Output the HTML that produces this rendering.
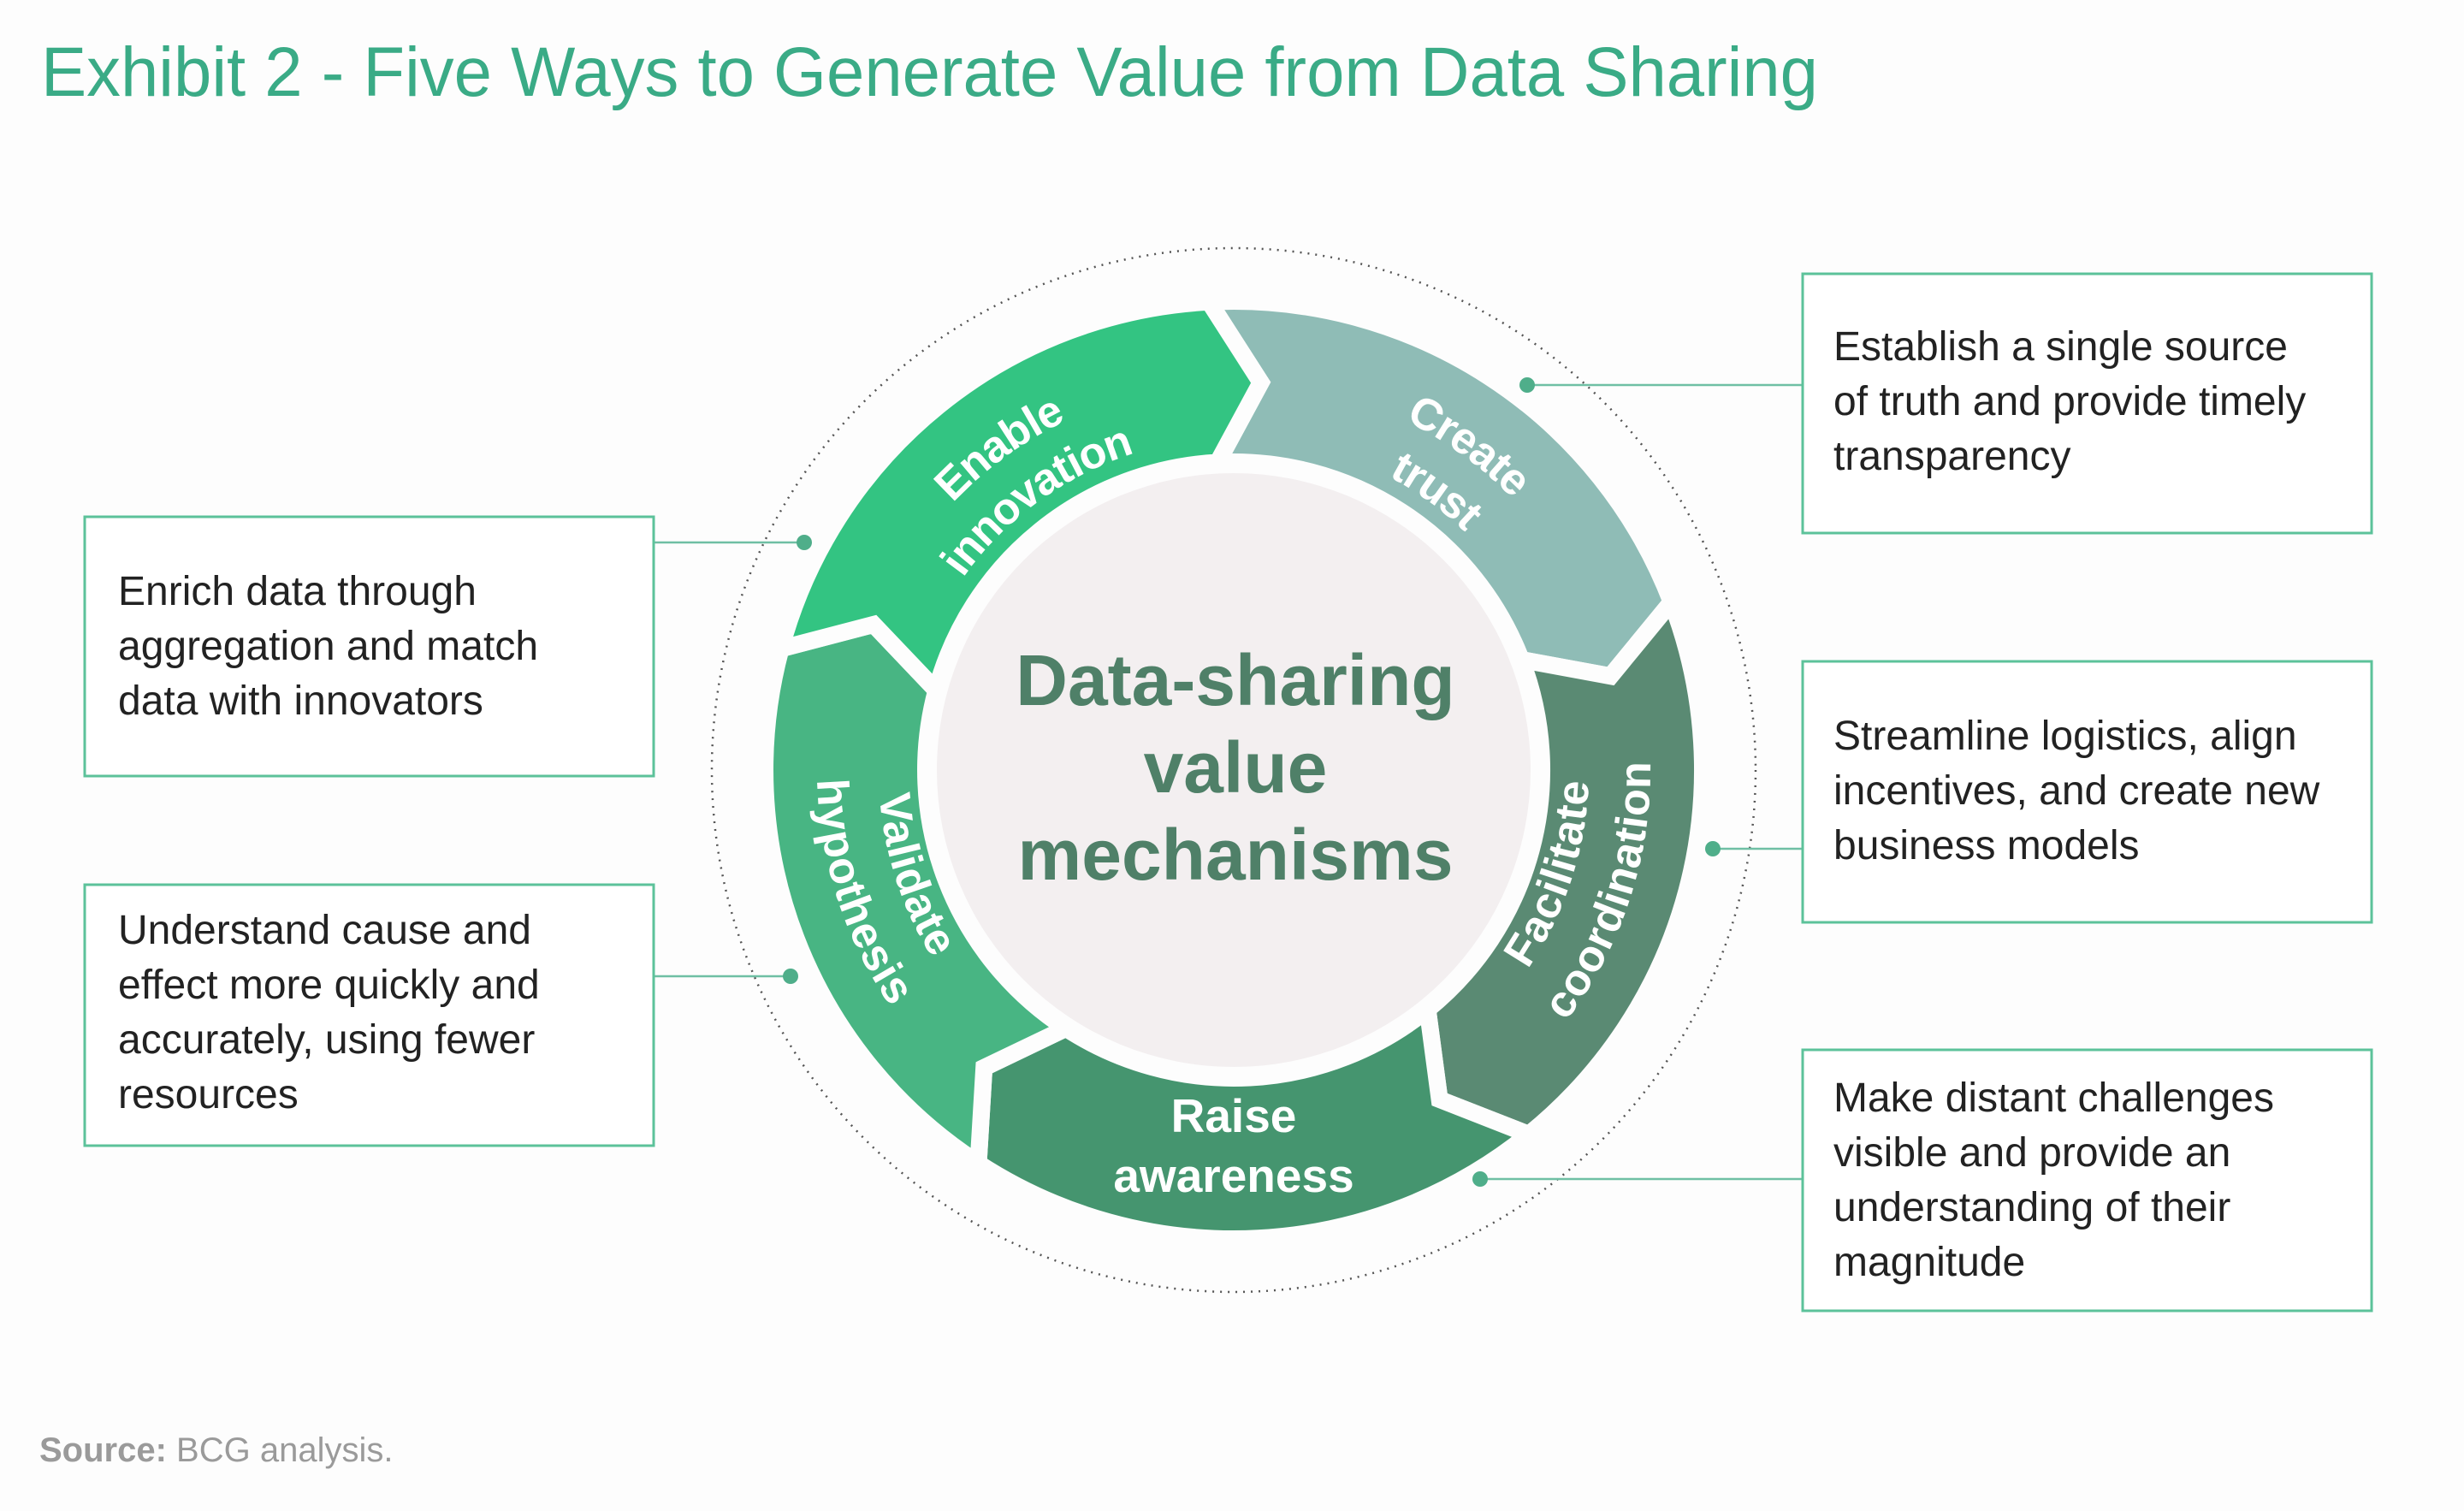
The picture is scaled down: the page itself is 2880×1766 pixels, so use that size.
<!DOCTYPE html>
<html><head><meta charset="utf-8">
<style>
html,body{margin:0;padding:0;background:#fdfdfd;}
svg{display:block;}
.box{fill:#fff;stroke:#5cc29a;stroke-width:3;}
.bt{font-family:"Liberation Sans",sans-serif;font-size:48px;fill:#222;}
.lab{font-family:"Liberation Sans",sans-serif;font-size:52px;font-weight:bold;fill:#fff;}
</style></head>
<body>
<svg id="s" width="2880" height="1766" viewBox="0 0 2880 1766" xmlns="http://www.w3.org/2000/svg">
<defs id="defs"></defs>
<text x="48" y="112" font-family="Liberation Sans, sans-serif" font-size="82" fill="#3aab86" textLength="2077" lengthAdjust="spacingAndGlyphs">Exhibit 2 - Five Ways to Generate Value from Data Sharing</text>

<circle cx="1442" cy="900" r="610" fill="none" stroke="#555" stroke-width="2.5" stroke-dasharray="2 7"/>
<g id="segs"></g>
<circle cx="1442" cy="900" r="347" fill="#f3eff0"/>

<g text-anchor="middle" font-family="Liberation Sans, sans-serif" font-weight="bold" font-size="84" fill="#4f8068">
<text x="1444" y="824">Data-sharing</text>
<text x="1444" y="926">value</text>
<text x="1444" y="1028">mechanisms</text>
</g>

<g class="lab" text-anchor="middle" dominant-baseline="central">
<text><textPath href="#tEn1" startOffset="50%">Enable</textPath></text>
<text><textPath href="#tEn2" startOffset="50%">innovation</textPath></text>
<text><textPath href="#tCr1" startOffset="50%">Create</textPath></text>
<text><textPath href="#tCr2" startOffset="50%">trust</textPath></text>
<text><textPath href="#tFa1" startOffset="50%">Facilitate</textPath></text>
<text><textPath href="#tFa2" startOffset="50%">coordination</textPath></text>
<text><textPath href="#tVa1" startOffset="50%">Validate</textPath></text>
<text><textPath href="#tVa2" startOffset="50%">hypothesis</textPath></text>
<text x="1442" y="1304" font-size="55">Raise</text>
<text x="1442" y="1374" font-size="55">awareness</text>
</g>

<g stroke="#6fbfa4" stroke-width="2.5" fill="#4fae8a">
<line x1="764" y1="634" x2="940" y2="634"/><circle cx="940" cy="634" r="9" stroke="none"/>
<line x1="764" y1="1141" x2="924" y2="1141"/><circle cx="924" cy="1141" r="9" stroke="none"/>
<line x1="2107" y1="450" x2="1785" y2="450"/><circle cx="1785" cy="450" r="9" stroke="none"/>
<line x1="2107" y1="992" x2="2002" y2="992"/><circle cx="2002" cy="992" r="9" stroke="none"/>
<line x1="2107" y1="1378" x2="1730" y2="1378"/><circle cx="1730" cy="1378" r="9" stroke="none"/>
</g>

<rect class="box" x="99" y="604" width="665" height="303"/>
<text class="bt"><tspan x="138" y="707">Enrich data through</tspan><tspan x="138" y="771">aggregation and match</tspan><tspan x="138" y="835">data with innovators</tspan></text>

<rect class="box" x="99" y="1034" width="665" height="305"/>
<text class="bt"><tspan x="138" y="1103">Understand cause and</tspan><tspan x="138" y="1167">effect more quickly and</tspan><tspan x="138" y="1231">accurately, using fewer</tspan><tspan x="138" y="1295">resources</tspan></text>

<rect class="box" x="2107" y="320" width="665" height="303"/>
<text class="bt"><tspan x="2143" y="421">Establish a single source</tspan><tspan x="2143" y="485">of truth and provide timely</tspan><tspan x="2143" y="549">transparency</tspan></text>

<rect class="box" x="2107" y="773" width="665" height="305"/>
<text class="bt"><tspan x="2143" y="876">Streamline logistics, align</tspan><tspan x="2143" y="940">incentives, and create new</tspan><tspan x="2143" y="1004">business models</tspan></text>

<rect class="box" x="2107" y="1227" width="665" height="305"/>
<text class="bt"><tspan x="2143" y="1299">Make distant challenges</tspan><tspan x="2143" y="1363">visible and provide an</tspan><tspan x="2143" y="1427">understanding of their</tspan><tspan x="2143" y="1491">magnitude</tspan></text>

<text x="46" y="1708" font-family="Liberation Sans, sans-serif" font-size="40" fill="#9a9a9a"><tspan font-weight="bold">Source:</tspan> BCG analysis.</text>

<script>
(function(){
var cx=1442,cy=900,NS="http://www.w3.org/2000/svg";
function P(r,a){a=a*Math.PI/180;return (cx+r*Math.sin(a)).toFixed(1)+" "+(cy-r*Math.cos(a)).toFixed(1);}
var R=548,r=360,rm=(R+r)/2,d=7;
var cols=["#8fbcb6","#5a8a73","#45956f","#48b583","#33c482"];
var g=document.getElementById("segs");
for(var i=0;i<5;i++){
 var a0=-3+72*i,a1=a0+72;
 var p="M"+P(R,a0)+" A"+R+" "+R+" 0 0 1 "+P(R,a1)+" L"+P(rm,a1+d)+" L"+P(r,a1)+" A"+r+" "+r+" 0 0 0 "+P(r,a0)+" L"+P(rm,a0+d)+" Z";
 var e=document.createElementNS(NS,"path");e.setAttribute("d",p);e.setAttribute("fill",cols[i]);
 e.setAttribute("stroke","#fdfdfd");e.setAttribute("stroke-width","20");e.setAttribute("stroke-linejoin","miter");
 g.appendChild(e);
}
var defs=document.getElementById("defs");
function arc(id,rr,c,cw){
 var s=cw?c-60:c+60,t=cw?c+60:c-60;
 var e=document.createElementNS(NS,"path");e.setAttribute("id",id);
 e.setAttribute("d","M"+P(rr,s)+" A"+rr+" "+rr+" 0 0 "+(cw?1:0)+" "+P(rr,t));
 defs.appendChild(e);
}
arc("tEn1",470,-36,true);arc("tEn2",405,-36,true);
arc("tCr1",472,36,true);arc("tCr2",405,36,true);
arc("tFa1",398,108,false);arc("tFa2",470,108,false);
arc("tVa1",398,252,false);arc("tVa2",470,252,false);
})();
</script>
</svg>
</body></html>
